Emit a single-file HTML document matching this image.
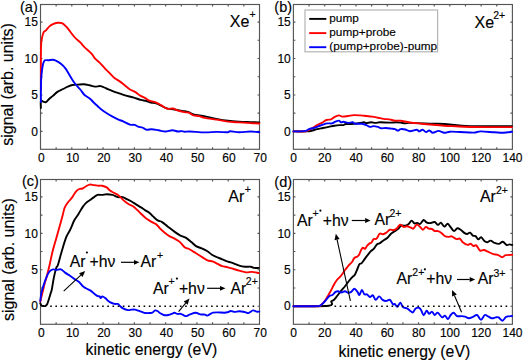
<!DOCTYPE html>
<html><head><meta charset="utf-8"><style>
html,body{margin:0;padding:0;background:#fff;}
body{width:525px;height:360px;overflow:hidden;}
svg{display:block;font-family:"Liberation Sans", sans-serif;}
text{stroke:#000;stroke-width:0.15px;}
</style></head><body>
<svg width="525" height="360" viewBox="0 0 525 360" font-family='"Liberation Sans", sans-serif' fill="#000">
<rect x="40.5" y="4.5" width="219.00" height="144.80" fill="none" stroke="#555555" stroke-width="1.15"/>
<path d="M40.5,131.40h2.0M259.5,131.40h-2.0M40.5,113.18h2.0M259.5,113.18h-2.0M40.5,94.95h2.0M259.5,94.95h-2.0M40.5,76.73h2.0M259.5,76.73h-2.0M40.5,58.50h2.0M259.5,58.50h-2.0M40.5,40.28h2.0M259.5,40.28h-2.0M40.5,22.05h2.0M259.5,22.05h-2.0M56.14,149.3v-2.0M56.14,4.5v2.0M71.79,149.3v-2.0M71.79,4.5v2.0M87.43,149.3v-2.0M87.43,4.5v2.0M103.07,149.3v-2.0M103.07,4.5v2.0M118.71,149.3v-2.0M118.71,4.5v2.0M134.36,149.3v-2.0M134.36,4.5v2.0M150.00,149.3v-2.0M150.00,4.5v2.0M165.64,149.3v-2.0M165.64,4.5v2.0M181.29,149.3v-2.0M181.29,4.5v2.0M196.93,149.3v-2.0M196.93,4.5v2.0M212.57,149.3v-2.0M212.57,4.5v2.0M228.21,149.3v-2.0M228.21,4.5v2.0M243.86,149.3v-2.0M243.86,4.5v2.0" stroke="#555555" stroke-width="1.15" fill="none"/>
<g font-size="12" fill="#000"><text x="37.90" y="135.60" text-anchor="end">0</text><text x="37.90" y="99.15" text-anchor="end">5</text><text x="37.90" y="62.70" text-anchor="end">10</text><text x="37.90" y="26.25" text-anchor="end">15</text><text x="41.30" y="161.90" text-anchor="middle">0</text><text x="72.59" y="161.90" text-anchor="middle">10</text><text x="103.87" y="161.90" text-anchor="middle">20</text><text x="135.16" y="161.90" text-anchor="middle">30</text><text x="166.44" y="161.90" text-anchor="middle">40</text><text x="197.73" y="161.90" text-anchor="middle">50</text><text x="229.01" y="161.90" text-anchor="middle">60</text><text x="260.30" y="161.90" text-anchor="middle">70</text></g>
<rect x="293.4" y="4.5" width="219.00" height="144.80" fill="none" stroke="#555555" stroke-width="1.15"/>
<path d="M293.4,131.40h2.0M512.4,131.40h-2.0M293.4,113.18h2.0M512.4,113.18h-2.0M293.4,94.95h2.0M512.4,94.95h-2.0M293.4,76.73h2.0M512.4,76.73h-2.0M293.4,58.50h2.0M512.4,58.50h-2.0M293.4,40.28h2.0M512.4,40.28h-2.0M293.4,22.05h2.0M512.4,22.05h-2.0M309.04,149.3v-2.0M309.04,4.5v2.0M324.69,149.3v-2.0M324.69,4.5v2.0M340.33,149.3v-2.0M340.33,4.5v2.0M355.97,149.3v-2.0M355.97,4.5v2.0M371.61,149.3v-2.0M371.61,4.5v2.0M387.26,149.3v-2.0M387.26,4.5v2.0M402.90,149.3v-2.0M402.90,4.5v2.0M418.54,149.3v-2.0M418.54,4.5v2.0M434.19,149.3v-2.0M434.19,4.5v2.0M449.83,149.3v-2.0M449.83,4.5v2.0M465.47,149.3v-2.0M465.47,4.5v2.0M481.11,149.3v-2.0M481.11,4.5v2.0M496.76,149.3v-2.0M496.76,4.5v2.0" stroke="#555555" stroke-width="1.15" fill="none"/>
<g font-size="12" fill="#000"><text x="290.80" y="135.60" text-anchor="end">0</text><text x="290.80" y="99.15" text-anchor="end">5</text><text x="290.80" y="62.70" text-anchor="end">10</text><text x="290.80" y="26.25" text-anchor="end">15</text><text x="293.50" y="161.90" text-anchor="middle">0</text><text x="324.79" y="161.90" text-anchor="middle">20</text><text x="356.07" y="161.90" text-anchor="middle">40</text><text x="387.36" y="161.90" text-anchor="middle">60</text><text x="418.64" y="161.90" text-anchor="middle">80</text><text x="449.93" y="161.90" text-anchor="middle">100</text><text x="481.21" y="161.90" text-anchor="middle">120</text><text x="512.50" y="161.90" text-anchor="middle">140</text></g>
<rect x="40.5" y="179.5" width="219.00" height="144.80" fill="none" stroke="#555555" stroke-width="1.15"/>
<path d="M40.5,306.20h2.0M259.5,306.20h-2.0M40.5,287.97h2.0M259.5,287.97h-2.0M40.5,269.75h2.0M259.5,269.75h-2.0M40.5,251.52h2.0M259.5,251.52h-2.0M40.5,233.30h2.0M259.5,233.30h-2.0M40.5,215.07h2.0M259.5,215.07h-2.0M40.5,196.85h2.0M259.5,196.85h-2.0M56.14,324.3v-2.0M56.14,179.5v2.0M71.79,324.3v-2.0M71.79,179.5v2.0M87.43,324.3v-2.0M87.43,179.5v2.0M103.07,324.3v-2.0M103.07,179.5v2.0M118.71,324.3v-2.0M118.71,179.5v2.0M134.36,324.3v-2.0M134.36,179.5v2.0M150.00,324.3v-2.0M150.00,179.5v2.0M165.64,324.3v-2.0M165.64,179.5v2.0M181.29,324.3v-2.0M181.29,179.5v2.0M196.93,324.3v-2.0M196.93,179.5v2.0M212.57,324.3v-2.0M212.57,179.5v2.0M228.21,324.3v-2.0M228.21,179.5v2.0M243.86,324.3v-2.0M243.86,179.5v2.0" stroke="#555555" stroke-width="1.15" fill="none"/>
<g font-size="12" fill="#000"><text x="37.90" y="310.40" text-anchor="end">0</text><text x="37.90" y="273.95" text-anchor="end">5</text><text x="37.90" y="237.50" text-anchor="end">10</text><text x="37.90" y="201.05" text-anchor="end">15</text><text x="41.30" y="336.90" text-anchor="middle">0</text><text x="72.59" y="336.90" text-anchor="middle">10</text><text x="103.87" y="336.90" text-anchor="middle">20</text><text x="135.16" y="336.90" text-anchor="middle">30</text><text x="166.44" y="336.90" text-anchor="middle">40</text><text x="197.73" y="336.90" text-anchor="middle">50</text><text x="229.01" y="336.90" text-anchor="middle">60</text><text x="260.30" y="336.90" text-anchor="middle">70</text></g>
<rect x="293.4" y="179.5" width="219.00" height="144.80" fill="none" stroke="#555555" stroke-width="1.15"/>
<path d="M293.4,306.20h2.0M512.4,306.20h-2.0M293.4,287.97h2.0M512.4,287.97h-2.0M293.4,269.75h2.0M512.4,269.75h-2.0M293.4,251.52h2.0M512.4,251.52h-2.0M293.4,233.30h2.0M512.4,233.30h-2.0M293.4,215.07h2.0M512.4,215.07h-2.0M293.4,196.85h2.0M512.4,196.85h-2.0M309.04,324.3v-2.0M309.04,179.5v2.0M324.69,324.3v-2.0M324.69,179.5v2.0M340.33,324.3v-2.0M340.33,179.5v2.0M355.97,324.3v-2.0M355.97,179.5v2.0M371.61,324.3v-2.0M371.61,179.5v2.0M387.26,324.3v-2.0M387.26,179.5v2.0M402.90,324.3v-2.0M402.90,179.5v2.0M418.54,324.3v-2.0M418.54,179.5v2.0M434.19,324.3v-2.0M434.19,179.5v2.0M449.83,324.3v-2.0M449.83,179.5v2.0M465.47,324.3v-2.0M465.47,179.5v2.0M481.11,324.3v-2.0M481.11,179.5v2.0M496.76,324.3v-2.0M496.76,179.5v2.0" stroke="#555555" stroke-width="1.15" fill="none"/>
<g font-size="12" fill="#000"><text x="290.80" y="310.40" text-anchor="end">0</text><text x="290.80" y="273.95" text-anchor="end">5</text><text x="290.80" y="237.50" text-anchor="end">10</text><text x="290.80" y="201.05" text-anchor="end">15</text><text x="293.50" y="336.90" text-anchor="middle">0</text><text x="324.79" y="336.90" text-anchor="middle">20</text><text x="356.07" y="336.90" text-anchor="middle">40</text><text x="387.36" y="336.90" text-anchor="middle">60</text><text x="418.64" y="336.90" text-anchor="middle">80</text><text x="449.93" y="336.90" text-anchor="middle">100</text><text x="481.21" y="336.90" text-anchor="middle">120</text><text x="512.50" y="336.90" text-anchor="middle">140</text></g>
<path d="M40.90,108.00 C40.90,106.83 40.53,102.07 40.90,101.00 C41.27,99.93 42.25,101.42 43.10,101.60 C43.95,101.78 44.95,102.58 46.00,102.10 C47.05,101.62 48.25,99.73 49.40,98.70 C50.55,97.67 51.57,97.03 52.90,95.90 C54.23,94.77 55.70,93.05 57.40,91.90 C59.10,90.75 61.38,89.87 63.10,89.00 C64.82,88.13 66.17,87.37 67.70,86.70 C69.23,86.03 70.58,85.35 72.30,85.00 C74.02,84.65 76.10,84.72 78.00,84.60 C79.90,84.48 81.80,84.20 83.70,84.30 C85.60,84.40 87.52,84.82 89.40,85.20 C91.28,85.58 93.12,86.45 95.00,86.60 C96.88,86.75 98.80,85.78 100.70,86.10 C102.60,86.42 104.30,87.63 106.40,88.50 C108.50,89.37 111.02,90.45 113.30,91.30 C115.58,92.15 117.82,92.83 120.10,93.60 C122.38,94.37 124.70,95.23 127.00,95.90 C129.30,96.57 131.62,96.93 133.90,97.60 C136.18,98.27 138.62,99.33 140.70,99.90 C142.78,100.47 144.68,100.55 146.40,101.00 C148.12,101.45 149.25,102.17 151.00,102.60 C152.75,103.03 154.40,102.68 156.90,103.60 C159.40,104.52 163.33,107.15 166.00,108.10 C168.67,109.05 169.28,108.67 172.90,109.30 C176.52,109.93 184.28,111.05 187.70,111.90 C191.12,112.75 190.52,113.65 193.40,114.40 C196.28,115.15 201.17,115.65 205.00,116.40 C208.83,117.15 212.58,118.17 216.40,118.90 C220.22,119.63 224.08,120.33 227.90,120.80 C231.72,121.27 235.50,121.48 239.30,121.70 C243.10,121.92 247.37,121.98 250.70,122.10 C254.03,122.22 257.87,122.35 259.30,122.40" stroke="#000000" stroke-width="1.9" fill="none" stroke-linejoin="round" stroke-linecap="round"/>
<path d="M40.90,90.00 C40.90,84.17 40.85,62.73 40.90,55.00 C40.95,47.27 41.02,46.45 41.20,43.60 C41.38,40.75 41.58,39.82 42.00,37.90 C42.42,35.98 43.03,33.35 43.70,32.10 C44.37,30.85 45.05,31.35 46.00,30.40 C46.95,29.45 48.25,27.45 49.40,26.40 C50.55,25.35 51.57,24.70 52.90,24.10 C54.23,23.50 55.88,22.95 57.40,22.80 C58.92,22.65 60.57,22.60 62.00,23.20 C63.43,23.80 64.85,25.28 66.00,26.40 C67.15,27.52 67.85,28.57 68.90,29.90 C69.95,31.23 71.17,32.98 72.30,34.40 C73.43,35.82 74.37,37.07 75.70,38.40 C77.03,39.73 78.77,40.87 80.30,42.40 C81.83,43.93 83.38,46.07 84.90,47.60 C86.42,49.13 88.17,50.43 89.40,51.60 C90.63,52.77 91.35,53.43 92.30,54.60 C93.25,55.77 93.88,57.27 95.10,58.60 C96.32,59.93 97.90,60.88 99.60,62.60 C101.30,64.32 103.58,67.10 105.30,68.90 C107.02,70.70 108.38,71.88 109.90,73.40 C111.42,74.92 112.88,76.75 114.40,78.00 C115.92,79.25 117.33,79.75 119.00,80.90 C120.67,82.05 122.63,83.52 124.40,84.90 C126.17,86.28 127.83,88.03 129.60,89.20 C131.37,90.37 133.15,90.78 135.00,91.90 C136.85,93.02 138.98,94.87 140.70,95.90 C142.42,96.93 143.97,97.35 145.30,98.10 C146.63,98.85 146.97,99.68 148.70,100.40 C150.43,101.12 153.58,101.58 155.70,102.40 C157.82,103.22 159.50,104.25 161.40,105.30 C163.30,106.35 165.18,108.17 167.10,108.70 C169.02,109.23 171.18,108.22 172.90,108.50 C174.62,108.78 175.50,109.80 177.40,110.40 C179.30,111.00 182.38,111.72 184.30,112.10 C186.22,112.48 187.38,112.17 188.90,112.70 C190.42,113.23 191.70,114.73 193.40,115.30 C195.10,115.87 197.18,115.67 199.10,116.10 C201.02,116.53 202.02,117.32 204.90,117.90 C207.78,118.48 212.57,118.98 216.40,119.60 C220.23,120.22 224.08,121.13 227.90,121.60 C231.72,122.07 235.50,122.15 239.30,122.40 C243.10,122.65 247.37,122.92 250.70,123.10 C254.03,123.28 257.87,123.43 259.30,123.50" stroke="#ff0000" stroke-width="1.9" fill="none" stroke-linejoin="round" stroke-linecap="round"/>
<path d="M40.90,102.10 C40.90,100.08 40.85,93.92 40.90,90.00 C40.95,86.08 41.02,81.83 41.20,78.60 C41.38,75.37 41.68,73.08 42.00,70.60 C42.32,68.12 42.62,65.42 43.10,63.70 C43.58,61.98 44.03,60.87 44.90,60.30 C45.77,59.73 46.97,60.40 48.30,60.30 C49.63,60.20 51.57,59.60 52.90,59.70 C54.23,59.80 54.97,60.23 56.30,60.90 C57.63,61.57 59.38,62.47 60.90,63.70 C62.42,64.93 64.07,66.58 65.40,68.30 C66.73,70.02 67.75,72.10 68.90,74.00 C70.05,75.90 71.17,77.95 72.30,79.70 C73.43,81.45 74.37,82.87 75.70,84.50 C77.03,86.13 78.87,87.80 80.30,89.50 C81.73,91.20 82.68,93.17 84.30,94.70 C85.92,96.23 88.38,97.35 90.00,98.70 C91.62,100.05 92.67,101.50 94.00,102.80 C95.33,104.10 96.88,105.47 98.00,106.50 C99.12,107.53 99.30,107.92 100.70,109.00 C102.10,110.08 104.50,111.77 106.40,113.00 C108.30,114.23 110.18,115.35 112.10,116.40 C114.02,117.45 115.98,118.43 117.90,119.30 C119.82,120.17 121.58,120.72 123.60,121.60 C125.62,122.48 128.17,124.05 130.00,124.60 C131.83,125.15 133.27,124.57 134.60,124.90 C135.93,125.23 136.67,126.13 138.00,126.60 C139.33,127.07 141.17,127.18 142.60,127.70 C144.03,128.22 145.08,129.45 146.60,129.70 C148.12,129.95 149.70,129.10 151.70,129.20 C153.70,129.30 156.32,129.92 158.60,130.30 C160.88,130.68 163.12,131.50 165.40,131.50 C167.68,131.50 170.20,130.30 172.30,130.30 C174.40,130.30 176.48,131.37 178.00,131.50 C179.52,131.63 180.25,131.07 181.40,131.10 C182.55,131.13 183.47,131.63 184.90,131.70 C186.33,131.77 186.65,131.38 190.00,131.50 C193.35,131.62 200.60,132.33 205.00,132.40 C209.40,132.47 212.58,131.93 216.40,131.90 C220.22,131.87 225.62,132.30 227.90,132.20 C230.18,132.10 228.20,131.30 230.10,131.30 C232.00,131.30 235.87,132.17 239.30,132.20 C242.73,132.23 247.37,131.50 250.70,131.50 C254.03,131.50 257.87,132.08 259.30,132.20" stroke="#0000ff" stroke-width="1.9" fill="none" stroke-linejoin="round" stroke-linecap="round"/>
<path d="M293.50,131.40 C295.73,131.40 303.92,131.48 306.90,131.40 C309.88,131.32 309.70,131.28 311.40,130.90 C313.10,130.52 315.18,129.58 317.10,129.10 C319.02,128.62 320.98,128.37 322.90,128.00 C324.82,127.63 326.70,127.28 328.60,126.90 C330.50,126.52 332.40,126.00 334.30,125.70 C336.20,125.40 338.48,125.20 340.00,125.10 C341.52,125.00 342.45,125.28 343.40,125.10 C344.35,124.92 344.37,124.18 345.70,124.00 C347.03,123.82 349.52,124.08 351.40,124.00 C353.28,123.92 355.25,123.73 357.00,123.50 C358.75,123.27 360.72,122.80 361.90,122.60 C363.08,122.40 363.35,122.22 364.10,122.30 C364.85,122.38 365.25,123.10 366.40,123.10 C367.55,123.10 369.47,122.33 371.00,122.30 C372.53,122.27 374.08,122.90 375.60,122.90 C377.12,122.90 377.82,122.35 380.10,122.30 C382.38,122.25 386.63,122.60 389.30,122.60 C391.97,122.60 394.20,122.30 396.10,122.30 C398.00,122.30 399.17,122.42 400.70,122.60 C402.23,122.78 403.75,123.35 405.30,123.40 C406.85,123.45 405.40,122.85 410.00,122.90 C414.60,122.95 427.18,123.52 432.90,123.70 C438.62,123.88 438.12,123.60 444.30,124.00 C450.48,124.40 458.72,125.72 470.00,126.10 C481.28,126.48 505.00,126.27 512.00,126.30" stroke="#000000" stroke-width="1.9" fill="none" stroke-linejoin="round" stroke-linecap="round"/>
<path d="M293.50,131.40 C295.25,131.40 301.77,131.48 304.00,131.40 C306.23,131.32 305.67,131.37 306.90,130.90 C308.13,130.43 309.70,129.57 311.40,128.60 C313.10,127.63 315.38,126.05 317.10,125.10 C318.82,124.15 320.17,123.75 321.70,122.90 C323.23,122.05 324.77,120.58 326.30,120.00 C327.83,119.42 329.57,119.88 330.90,119.40 C332.23,118.92 332.97,117.77 334.30,117.10 C335.63,116.43 337.57,115.48 338.90,115.40 C340.23,115.32 340.78,116.50 342.30,116.60 C343.82,116.70 346.10,116.25 348.00,116.00 C349.90,115.75 351.58,115.20 353.70,115.10 C355.82,115.00 358.58,115.25 360.70,115.40 C362.82,115.55 364.50,115.80 366.40,116.00 C368.30,116.20 370.18,116.32 372.10,116.60 C374.02,116.88 375.98,117.32 377.90,117.70 C379.82,118.08 381.70,118.62 383.60,118.90 C385.50,119.18 387.40,119.12 389.30,119.40 C391.20,119.68 393.10,120.37 395.00,120.60 C396.90,120.83 398.20,120.48 400.70,120.80 C403.20,121.12 406.55,122.02 410.00,122.50 C413.45,122.98 417.58,123.32 421.40,123.70 C425.22,124.08 429.08,124.47 432.90,124.80 C436.72,125.13 440.50,125.45 444.30,125.70 C448.10,125.95 451.42,126.08 455.70,126.30 C459.98,126.52 460.62,126.87 470.00,127.00 C479.38,127.13 505.00,127.08 512.00,127.10" stroke="#ff0000" stroke-width="1.9" fill="none" stroke-linejoin="round" stroke-linecap="round"/>
<path d="M293.50,131.40 C294.58,131.40 297.97,131.48 300.00,131.40 C302.03,131.32 304.18,131.28 305.70,130.90 C307.22,130.52 307.77,129.58 309.10,129.10 C310.43,128.62 312.17,128.47 313.70,128.00 C315.23,127.53 316.77,126.87 318.30,126.30 C319.83,125.73 321.38,125.08 322.90,124.60 C324.42,124.12 325.88,123.60 327.40,123.40 C328.92,123.20 330.67,123.68 332.00,123.40 C333.33,123.12 334.25,122.17 335.40,121.70 C336.55,121.23 337.95,120.50 338.90,120.60 C339.85,120.70 340.35,122.12 341.10,122.30 C341.85,122.48 342.25,121.60 343.40,121.70 C344.55,121.80 346.47,122.80 348.00,122.90 C349.53,123.00 351.43,122.18 352.60,122.30 C353.77,122.42 353.45,123.35 355.00,123.60 C356.55,123.85 360.00,123.55 361.90,123.80 C363.80,124.05 365.07,124.58 366.40,125.10 C367.73,125.62 368.75,126.73 369.90,126.90 C371.05,127.07 371.97,126.10 373.30,126.10 C374.63,126.10 376.57,126.53 377.90,126.90 C379.23,127.27 379.97,128.12 381.30,128.30 C382.63,128.48 384.18,127.95 385.90,128.00 C387.62,128.05 390.08,128.42 391.60,128.60 C393.12,128.78 393.95,128.77 395.00,129.10 C396.05,129.43 396.95,130.60 397.90,130.60 C398.85,130.60 399.47,129.28 400.70,129.10 C401.93,128.92 403.75,129.15 405.30,129.50 C406.85,129.85 408.07,131.17 410.00,131.20 C411.93,131.23 415.38,129.67 416.90,129.70 C418.42,129.73 418.15,131.40 419.10,131.40 C420.05,131.40 421.45,129.60 422.60,129.70 C423.75,129.80 424.87,131.87 426.00,132.00 C427.13,132.13 428.25,130.37 429.40,130.50 C430.55,130.63 431.37,132.73 432.90,132.80 C434.43,132.87 436.70,130.90 438.60,130.90 C440.50,130.90 442.40,132.67 444.30,132.80 C446.20,132.93 447.38,131.83 450.00,131.70 C452.62,131.57 456.05,131.85 460.00,132.00 C463.95,132.15 470.27,132.70 473.70,132.60 C477.13,132.50 477.17,131.45 480.60,131.40 C484.03,131.35 490.50,132.07 494.30,132.30 C498.10,132.53 500.45,132.90 503.40,132.80 C506.35,132.70 510.57,131.88 512.00,131.70" stroke="#0000ff" stroke-width="1.9" fill="none" stroke-linejoin="round" stroke-linecap="round"/>
<path d="M40.30,303.10 C40.48,303.48 40.93,304.92 41.40,305.40 C41.87,305.88 42.43,305.90 43.10,306.00 C43.77,306.10 44.73,306.28 45.40,306.00 C46.07,305.72 46.52,305.45 47.10,304.30 C47.68,303.15 48.32,300.92 48.90,299.10 C49.48,297.28 50.13,294.92 50.60,293.40 C51.07,291.88 51.13,292.75 51.70,290.00 C52.27,287.25 53.23,280.62 54.00,276.90 C54.77,273.18 55.65,269.68 56.30,267.70 C56.95,265.72 57.05,267.53 57.90,265.00 C58.75,262.47 60.02,257.13 61.40,252.50 C62.78,247.87 64.75,240.95 66.20,237.20 C67.65,233.45 69.17,231.85 70.10,230.00 C71.03,228.15 71.10,227.72 71.80,226.10 C72.50,224.48 73.18,222.32 74.30,220.30 C75.42,218.28 77.12,216.20 78.50,214.00 C79.88,211.80 81.33,208.95 82.60,207.10 C83.87,205.25 84.87,204.07 86.10,202.90 C87.33,201.73 88.67,201.07 90.00,200.10 C91.33,199.13 92.83,197.97 94.10,197.10 C95.37,196.23 96.27,195.27 97.60,194.90 C98.93,194.53 100.58,195.00 102.10,194.90 C103.62,194.80 104.98,194.30 106.70,194.30 C108.42,194.30 110.50,194.43 112.40,194.90 C114.30,195.37 116.38,196.73 118.10,197.10 C119.82,197.47 121.17,196.72 122.70,197.10 C124.23,197.48 125.77,198.63 127.30,199.40 C128.83,200.17 130.38,200.83 131.90,201.70 C133.42,202.57 134.88,203.65 136.40,204.60 C137.92,205.55 139.57,206.48 141.00,207.40 C142.43,208.32 143.57,209.17 145.00,210.10 C146.43,211.03 148.27,211.95 149.60,213.00 C150.93,214.05 151.67,215.17 153.00,216.40 C154.33,217.63 156.08,219.45 157.60,220.40 C159.12,221.35 160.38,221.05 162.10,222.10 C163.82,223.15 165.80,225.07 167.90,226.70 C170.00,228.33 172.68,230.47 174.70,231.90 C176.72,233.33 178.17,234.35 180.00,235.30 C181.83,236.25 183.80,236.47 185.70,237.60 C187.60,238.73 189.68,240.68 191.40,242.10 C193.12,243.52 194.28,245.05 196.00,246.10 C197.72,247.15 199.80,247.53 201.70,248.40 C203.60,249.27 205.68,250.25 207.40,251.30 C209.12,252.35 210.47,253.75 212.00,254.70 C213.53,255.65 214.88,256.23 216.60,257.00 C218.32,257.77 220.40,258.53 222.30,259.30 C224.20,260.07 226.12,260.93 228.00,261.60 C229.88,262.27 231.72,262.63 233.60,263.30 C235.48,263.97 237.40,265.03 239.30,265.60 C241.20,266.17 243.10,266.52 245.00,266.70 C246.90,266.88 249.18,266.50 250.70,266.70 C252.22,266.90 252.77,267.70 254.10,267.90 C255.43,268.10 257.93,267.90 258.70,267.90" stroke="#000000" stroke-width="1.9" fill="none" stroke-linejoin="round" stroke-linecap="round"/>
<path d="M40.30,301.40 C40.77,299.50 42.33,293.13 43.10,290.00 C43.87,286.87 44.32,284.78 44.90,282.60 C45.48,280.42 45.82,279.83 46.60,276.90 C47.38,273.97 48.65,269.07 49.60,265.00 C50.55,260.93 51.27,256.67 52.30,252.50 C53.33,248.33 54.63,244.17 55.80,240.00 C56.97,235.83 58.14,231.67 59.30,227.50 C60.46,223.33 61.87,218.28 62.75,215.00 C63.63,211.72 63.72,209.93 64.60,207.80 C65.47,205.67 66.73,203.93 68.00,202.20 C69.27,200.47 70.92,199.13 72.20,197.40 C73.48,195.67 74.53,193.20 75.70,191.80 C76.87,190.40 78.05,189.55 79.20,189.00 C80.35,188.45 81.45,188.96 82.60,188.50 C83.75,188.04 84.93,186.90 86.10,186.25 C87.27,185.60 88.27,184.79 89.60,184.60 C90.93,184.41 92.58,184.92 94.10,185.10 C95.62,185.28 97.37,185.60 98.70,185.70 C100.03,185.80 100.77,185.42 102.10,185.70 C103.43,185.98 105.55,186.73 106.70,187.40 C107.85,188.07 108.05,188.93 109.00,189.70 C109.95,190.47 111.07,191.23 112.40,192.00 C113.73,192.77 115.67,193.45 117.00,194.30 C118.33,195.15 119.25,196.05 120.40,197.10 C121.55,198.15 122.57,199.45 123.90,200.60 C125.23,201.75 126.88,203.05 128.40,204.00 C129.92,204.95 131.47,205.25 133.00,206.30 C134.53,207.35 136.27,209.07 137.60,210.30 C138.93,211.53 139.77,212.50 141.00,213.70 C142.23,214.90 143.77,216.47 145.00,217.50 C146.23,218.53 147.07,219.03 148.40,219.90 C149.73,220.77 151.67,221.95 153.00,222.70 C154.33,223.45 155.25,223.45 156.40,224.40 C157.55,225.35 158.57,227.07 159.90,228.40 C161.23,229.73 162.88,231.15 164.40,232.40 C165.92,233.65 167.28,234.85 169.00,235.90 C170.72,236.95 172.87,237.67 174.70,238.70 C176.53,239.73 178.35,240.67 180.00,242.10 C181.65,243.53 183.08,246.15 184.60,247.30 C186.12,248.45 187.58,248.23 189.10,249.00 C190.62,249.77 192.17,250.95 193.70,251.90 C195.23,252.85 196.77,253.75 198.30,254.70 C199.83,255.65 201.38,256.65 202.90,257.60 C204.42,258.55 205.70,259.73 207.40,260.40 C209.10,261.07 211.40,261.02 213.10,261.60 C214.80,262.18 216.10,263.15 217.60,263.90 C219.10,264.65 220.38,265.53 222.10,266.10 C223.82,266.67 225.98,266.82 227.90,267.30 C229.82,267.78 231.70,268.43 233.60,269.00 C235.50,269.57 237.22,270.13 239.30,270.70 C241.38,271.27 244.00,272.20 246.10,272.40 C248.20,272.60 249.80,271.80 251.90,271.90 C254.00,272.00 257.57,272.82 258.70,273.00" stroke="#ff0000" stroke-width="1.9" fill="none" stroke-linejoin="round" stroke-linecap="round"/>
<path d="M40.30,300.90 C40.48,299.57 40.83,295.57 41.40,292.90 C41.97,290.23 42.83,287.57 43.70,284.90 C44.57,282.23 45.65,279.10 46.60,276.90 C47.55,274.70 48.35,272.95 49.40,271.70 C50.45,270.45 51.75,269.68 52.90,269.40 C54.05,269.12 54.97,270.00 56.30,270.00 C57.63,270.00 59.38,268.92 60.90,269.40 C62.42,269.88 63.88,271.85 65.40,272.90 C66.92,273.95 68.47,274.67 70.00,275.70 C71.53,276.73 73.08,278.05 74.60,279.10 C76.12,280.15 77.77,280.85 79.10,282.00 C80.43,283.15 81.45,284.95 82.60,286.00 C83.75,287.05 84.67,287.53 86.00,288.30 C87.33,289.07 89.27,289.75 90.60,290.60 C91.93,291.45 92.88,292.52 94.00,293.40 C95.12,294.28 96.37,295.40 97.30,295.90 C98.23,296.40 99.03,296.03 99.60,296.40 C100.17,296.77 100.23,298.10 100.70,298.10 C101.17,298.10 101.63,296.40 102.40,296.40 C103.17,296.40 104.43,297.43 105.30,298.10 C106.17,298.77 106.83,299.73 107.60,300.40 C108.37,301.07 108.77,301.52 109.90,302.10 C111.03,302.68 113.07,303.60 114.40,303.90 C115.73,304.20 117.03,303.62 117.90,303.90 C118.77,304.18 118.75,304.85 119.60,305.60 C120.45,306.35 121.58,307.65 123.00,308.40 C124.42,309.15 126.67,309.90 128.10,310.10 C129.53,310.30 130.45,309.68 131.60,309.60 C132.75,309.52 133.87,309.42 135.00,309.60 C136.13,309.78 137.25,310.32 138.40,310.70 C139.55,311.08 140.75,311.52 141.90,311.90 C143.05,312.28 143.97,312.82 145.30,313.00 C146.63,313.18 148.73,313.05 149.90,313.00 C151.07,312.95 151.43,313.13 152.30,312.70 C153.17,312.27 154.25,310.68 155.10,310.40 C155.95,310.12 156.53,310.52 157.40,311.00 C158.27,311.48 159.25,312.63 160.30,313.30 C161.35,313.97 162.37,314.72 163.70,315.00 C165.03,315.28 166.77,315.28 168.30,315.00 C169.83,314.72 171.85,313.68 172.90,313.30 C173.95,312.92 173.85,312.60 174.60,312.70 C175.35,312.80 176.35,313.70 177.40,313.90 C178.45,314.10 179.75,313.62 180.90,313.90 C182.05,314.18 183.35,315.23 184.30,315.60 C185.25,315.97 185.65,316.30 186.60,316.10 C187.55,315.90 188.48,314.97 190.00,314.40 C191.52,313.83 193.98,312.70 195.70,312.70 C197.42,312.70 198.75,314.08 200.30,314.40 C201.85,314.72 203.83,314.40 205.00,314.60 C206.17,314.80 206.53,315.63 207.30,315.60 C208.07,315.57 208.65,314.88 209.60,314.40 C210.55,313.92 211.67,313.03 213.00,312.70 C214.33,312.37 215.70,312.40 217.60,312.40 C219.50,312.40 222.68,312.75 224.40,312.70 C226.12,312.65 226.85,312.38 227.90,312.10 C228.95,311.82 229.57,311.03 230.70,311.00 C231.83,310.97 233.27,311.87 234.70,311.90 C236.13,311.93 237.58,311.17 239.30,311.20 C241.02,311.23 243.48,311.78 245.00,312.10 C246.52,312.42 247.07,313.38 248.40,313.10 C249.73,312.82 251.67,310.65 253.00,310.40 C254.33,310.15 255.35,311.40 256.40,311.60 C257.45,311.80 258.82,311.60 259.30,311.60" stroke="#0000ff" stroke-width="1.9" fill="none" stroke-linejoin="round" stroke-linecap="round"/>
<path d="M293.50,306.20 C299.38,306.13 322.46,306.62 328.75,305.80 C335.04,304.98 330.42,302.22 331.25,301.25 C332.08,300.28 332.81,300.83 333.75,300.00 C334.69,299.17 335.65,297.82 336.90,296.25 C338.15,294.68 339.90,292.27 341.25,290.60 C342.60,288.93 343.75,287.81 345.00,286.25 C346.25,284.69 347.50,282.81 348.75,281.25 C350.00,279.69 351.46,278.04 352.50,276.90 C353.54,275.76 354.17,275.76 355.00,274.40 C355.83,273.04 356.77,270.43 357.50,268.75 C358.23,267.07 358.70,265.24 359.40,264.30 C360.10,263.36 360.83,263.97 361.70,263.10 C362.57,262.23 363.55,260.52 364.60,259.10 C365.65,257.68 366.95,255.93 368.00,254.60 C369.05,253.27 369.95,252.05 370.90,251.10 C371.85,250.15 372.67,250.03 373.70,248.90 C374.73,247.77 376.05,245.27 377.10,244.30 C378.15,243.33 378.83,243.82 380.00,243.10 C381.17,242.38 382.83,240.90 384.10,240.00 C385.37,239.10 386.45,238.75 387.60,237.70 C388.75,236.65 389.87,234.75 391.00,233.70 C392.13,232.65 393.25,232.17 394.40,231.40 C395.55,230.63 396.75,230.05 397.90,229.10 C399.05,228.15 400.07,226.27 401.30,225.70 C402.53,225.13 404.07,225.98 405.30,225.70 C406.53,225.42 407.65,224.85 408.70,224.00 C409.75,223.15 410.65,220.70 411.60,220.60 C412.55,220.50 413.45,223.02 414.40,223.40 C415.35,223.78 416.35,222.80 417.30,222.90 C418.25,223.00 419.05,224.48 420.10,224.00 C421.15,223.52 422.55,220.28 423.60,220.00 C424.65,219.72 425.33,221.78 426.40,222.30 C427.47,222.82 428.63,223.15 430.00,223.10 C431.37,223.05 433.27,221.70 434.60,222.00 C435.93,222.30 436.95,224.80 438.00,224.90 C439.05,225.00 439.85,222.32 440.90,222.60 C441.95,222.88 443.17,226.42 444.30,226.60 C445.43,226.78 446.65,223.62 447.70,223.70 C448.75,223.78 449.55,225.87 450.60,227.10 C451.65,228.33 452.87,230.90 454.00,231.10 C455.13,231.30 456.25,228.48 457.40,228.30 C458.55,228.12 459.75,229.23 460.90,230.00 C462.05,230.77 463.27,232.23 464.30,232.90 C465.33,233.57 466.15,234.05 467.10,234.00 C468.05,233.95 469.05,232.33 470.00,232.60 C470.95,232.87 471.87,235.02 472.80,235.60 C473.73,236.18 474.68,235.47 475.60,236.10 C476.52,236.73 477.38,239.22 478.30,239.40 C479.22,239.58 480.08,236.92 481.10,237.20 C482.12,237.48 483.38,240.27 484.40,241.10 C485.42,241.93 486.17,242.28 487.20,242.20 C488.23,242.12 489.40,240.50 490.60,240.60 C491.80,240.70 493.02,242.25 494.40,242.80 C495.78,243.35 497.50,244.08 498.90,243.90 C500.30,243.72 501.50,241.52 502.80,241.70 C504.10,241.88 505.60,244.55 506.70,245.00 C507.80,245.45 508.48,244.40 509.40,244.40 C510.32,244.40 511.73,244.90 512.20,245.00" stroke="#000000" stroke-width="1.9" fill="none" stroke-linejoin="round" stroke-linecap="round"/>
<path d="M293.50,306.20 C297.58,306.20 313.33,306.48 318.00,306.20 C322.67,305.92 320.50,305.20 321.50,304.50 C322.50,303.80 323.21,302.96 324.00,302.00 C324.79,301.04 325.46,300.02 326.25,298.75 C327.04,297.48 327.92,295.86 328.75,294.40 C329.58,292.94 330.42,291.57 331.25,290.00 C332.08,288.43 332.81,286.67 333.75,285.00 C334.69,283.33 335.86,281.35 336.90,280.00 C337.94,278.65 339.07,277.94 340.00,276.90 C340.93,275.86 341.67,274.90 342.50,273.75 C343.33,272.60 344.27,271.01 345.00,270.00 C345.73,268.99 346.22,268.55 346.90,267.70 C347.58,266.85 348.25,265.85 349.10,264.90 C349.95,263.95 351.13,263.15 352.00,262.00 C352.87,260.85 353.53,258.85 354.30,258.00 C355.07,257.15 355.83,257.38 356.60,256.90 C357.37,256.42 358.15,256.25 358.90,255.10 C359.65,253.95 360.43,251.23 361.10,250.00 C361.77,248.77 362.23,247.88 362.90,247.70 C363.57,247.52 364.43,249.18 365.10,248.90 C365.77,248.62 366.23,246.87 366.90,246.00 C367.57,245.13 368.35,244.27 369.10,243.70 C369.85,243.13 370.63,243.37 371.40,242.60 C372.17,241.83 372.83,239.77 373.70,239.10 C374.57,238.43 375.62,239.50 376.60,238.60 C377.58,237.70 378.53,234.42 379.60,233.70 C380.67,232.98 381.87,234.48 383.00,234.30 C384.13,234.12 385.25,233.37 386.40,232.60 C387.55,231.83 388.75,230.08 389.90,229.70 C391.05,229.32 392.17,230.48 393.30,230.30 C394.43,230.12 395.57,229.55 396.70,228.60 C397.83,227.65 398.95,224.88 400.10,224.60 C401.25,224.32 402.45,226.62 403.60,226.90 C404.75,227.18 405.87,226.22 407.00,226.30 C408.13,226.38 409.35,227.02 410.40,227.40 C411.45,227.78 412.25,229.07 413.30,228.60 C414.35,228.13 415.57,224.88 416.70,224.60 C417.83,224.32 419.05,226.05 420.10,226.90 C421.15,227.75 422.03,229.70 423.00,229.70 C423.97,229.70 424.95,227.08 425.90,226.90 C426.85,226.72 427.68,228.25 428.70,228.60 C429.72,228.95 431.02,228.60 432.00,229.00 C432.98,229.40 433.60,230.65 434.60,231.00 C435.60,231.35 436.87,230.78 438.00,231.10 C439.13,231.42 440.35,232.13 441.40,232.90 C442.45,233.67 443.15,235.03 444.30,235.70 C445.45,236.37 447.07,236.80 448.30,236.90 C449.53,237.00 450.37,235.93 451.70,236.30 C453.03,236.67 454.97,238.72 456.30,239.10 C457.63,239.48 458.57,238.02 459.70,238.60 C460.83,239.18 461.77,241.55 463.10,242.60 C464.43,243.65 466.45,244.72 467.70,244.90 C468.95,245.08 469.65,243.52 470.60,243.70 C471.55,243.88 472.45,245.72 473.40,246.00 C474.35,246.28 475.20,244.63 476.30,245.40 C477.40,246.17 478.73,249.83 480.00,250.60 C481.27,251.37 482.60,249.82 483.90,250.00 C485.20,250.18 486.23,251.02 487.80,251.70 C489.37,252.38 491.63,253.58 493.30,254.10 C494.97,254.62 496.32,254.28 497.80,254.80 C499.28,255.32 500.90,257.13 502.20,257.20 C503.50,257.27 503.93,255.60 505.60,255.20 C507.27,254.80 511.10,254.87 512.20,254.80" stroke="#ff0000" stroke-width="1.9" fill="none" stroke-linejoin="round" stroke-linecap="round"/>
<path d="M293.50,306.20 C297.08,306.20 310.58,306.30 315.00,306.20 C319.42,306.10 318.54,306.22 320.00,305.60 C321.46,304.98 322.50,303.75 323.75,302.50 C325.00,301.25 326.46,299.25 327.50,298.10 C328.54,296.95 329.17,296.12 330.00,295.60 C330.83,295.08 331.57,295.62 332.50,295.00 C333.43,294.38 334.67,292.52 335.60,291.90 C336.53,291.27 337.16,291.15 338.10,291.25 C339.04,291.35 340.10,292.50 341.25,292.50 C342.40,292.50 343.86,291.21 345.00,291.25 C346.14,291.29 347.06,292.64 348.10,292.75 C349.14,292.86 350.20,292.57 351.25,291.90 C352.30,291.23 353.36,288.75 354.40,288.75 C355.44,288.75 356.67,290.86 357.50,291.90 C358.33,292.94 358.67,295.32 359.40,295.00 C360.13,294.68 361.07,290.10 361.90,290.00 C362.73,289.90 363.57,293.67 364.40,294.40 C365.23,295.13 365.97,293.97 366.90,294.40 C367.83,294.83 369.00,296.85 370.00,297.00 C371.00,297.15 371.95,294.82 372.90,295.30 C373.85,295.78 374.67,299.72 375.70,299.90 C376.73,300.08 377.95,296.40 379.10,296.40 C380.25,296.40 381.45,299.13 382.60,299.90 C383.75,300.67 384.77,301.00 386.00,301.00 C387.23,301.00 388.85,299.33 390.00,299.90 C391.15,300.47 392.13,303.73 392.90,304.40 C393.67,305.07 393.85,303.52 394.60,303.90 C395.35,304.28 396.45,306.90 397.40,306.70 C398.35,306.50 399.35,302.60 400.30,302.70 C401.25,302.80 401.97,306.35 403.10,307.30 C404.23,308.25 405.95,307.83 407.10,308.40 C408.25,308.97 409.03,310.03 410.00,310.70 C410.97,311.37 411.95,312.78 412.90,312.40 C413.85,312.02 414.67,309.15 415.70,308.40 C416.73,307.65 418.15,307.52 419.10,307.90 C420.05,308.28 420.63,309.47 421.40,310.70 C422.17,311.93 422.82,315.32 423.70,315.30 C424.58,315.28 425.82,310.83 426.70,310.60 C427.58,310.37 428.13,313.73 429.00,313.90 C429.87,314.07 430.95,311.42 431.90,311.60 C432.85,311.78 433.75,314.82 434.70,315.00 C435.65,315.18 436.37,312.32 437.60,312.70 C438.83,313.08 440.87,316.82 442.10,317.30 C443.33,317.78 444.03,315.32 445.00,315.60 C445.97,315.88 446.95,319.10 447.90,319.00 C448.85,318.90 449.75,316.05 450.70,315.00 C451.65,313.95 452.55,312.52 453.60,312.70 C454.65,312.88 455.67,315.53 457.00,316.10 C458.33,316.67 460.27,316.00 461.60,316.10 C462.93,316.20 463.77,316.35 465.00,316.70 C466.23,317.05 467.68,318.17 469.00,318.20 C470.32,318.23 471.55,317.43 472.90,316.90 C474.25,316.37 475.75,314.52 477.10,315.00 C478.45,315.48 479.72,319.80 481.00,319.80 C482.28,319.80 483.62,315.57 484.80,315.00 C485.98,314.43 486.92,315.85 488.10,316.40 C489.28,316.95 490.63,318.13 491.90,318.30 C493.17,318.47 494.58,317.55 495.70,317.40 C496.82,317.25 497.48,316.85 498.60,317.40 C499.72,317.95 501.13,320.78 502.40,320.70 C503.67,320.62 504.60,317.68 506.20,316.90 C507.80,316.12 511.03,316.15 512.00,316.00" stroke="#0000ff" stroke-width="1.9" fill="none" stroke-linejoin="round" stroke-linecap="round"/>
<path d="M51.00,306.2h0.01M56.19,306.2h0.01M61.38,306.2h0.01M66.57,306.2h0.01M71.76,306.2h0.01M76.95,306.2h0.01M82.14,306.2h0.01M87.33,306.2h0.01M92.52,306.2h0.01M97.71,306.2h0.01M102.90,306.2h0.01M108.09,306.2h0.01M113.28,306.2h0.01M118.47,306.2h0.01M123.66,306.2h0.01M128.85,306.2h0.01M134.04,306.2h0.01M139.23,306.2h0.01M144.42,306.2h0.01M149.61,306.2h0.01M154.79,306.2h0.01M159.98,306.2h0.01M165.17,306.2h0.01M170.36,306.2h0.01M175.55,306.2h0.01M180.74,306.2h0.01M185.93,306.2h0.01M191.12,306.2h0.01M196.31,306.2h0.01M201.50,306.2h0.01M206.69,306.2h0.01M211.88,306.2h0.01M217.07,306.2h0.01M222.26,306.2h0.01M227.45,306.2h0.01M232.64,306.2h0.01M237.83,306.2h0.01M243.02,306.2h0.01M248.21,306.2h0.01M253.40,306.2h0.01" stroke="#000" stroke-width="1.6" stroke-linecap="square" fill="none"/>
<path d="M335.30,306.2h0.01M340.48,306.2h0.01M345.67,306.2h0.01M350.85,306.2h0.01M356.04,306.2h0.01M361.22,306.2h0.01M366.41,306.2h0.01M371.59,306.2h0.01M376.78,306.2h0.01M381.96,306.2h0.01M387.15,306.2h0.01M392.33,306.2h0.01M397.52,306.2h0.01M402.70,306.2h0.01M407.89,306.2h0.01M413.07,306.2h0.01M418.26,306.2h0.01M423.44,306.2h0.01M428.63,306.2h0.01M433.81,306.2h0.01M439.00,306.2h0.01M444.18,306.2h0.01M449.37,306.2h0.01M454.55,306.2h0.01M459.74,306.2h0.01M464.92,306.2h0.01M470.11,306.2h0.01M475.29,306.2h0.01M480.48,306.2h0.01M485.66,306.2h0.01M490.85,306.2h0.01M496.03,306.2h0.01M501.22,306.2h0.01M506.40,306.2h0.01" stroke="#000" stroke-width="1.6" stroke-linecap="square" fill="none"/>
<line x1="63.70" y1="291.10" x2="80.82" y2="275.10" stroke="#000" stroke-width="1.1"/>
<polygon points="85.20,271.00 82.59,277.00 79.04,273.20" fill="#000"/>
<line x1="178.60" y1="311.60" x2="185.66" y2="303.11" stroke="#000" stroke-width="1.1"/>
<polygon points="189.50,298.50 187.66,304.78 183.66,301.45" fill="#000"/>
<line x1="350.40" y1="300.80" x2="337.08" y2="239.66" stroke="#000" stroke-width="1.1"/>
<polygon points="335.80,233.80 339.62,239.11 334.54,240.22" fill="#000"/>
<line x1="461.60" y1="312.30" x2="454.45" y2="295.52" stroke="#000" stroke-width="1.1"/>
<polygon points="452.10,290.00 456.84,294.50 452.06,296.54" fill="#000"/>
<line x1="121.00" y1="262.30" x2="134.00" y2="262.30" stroke="#000" stroke-width="1.2"/>
<polygon points="139.50,262.30 134.00,264.70 134.00,259.90" fill="#000"/>
<line x1="207.10" y1="288.30" x2="220.00" y2="288.30" stroke="#000" stroke-width="1.2"/>
<polygon points="225.50,288.30 220.00,290.70 220.00,285.90" fill="#000"/>
<line x1="351.80" y1="220.50" x2="365.10" y2="220.50" stroke="#000" stroke-width="1.2"/>
<polygon points="370.60,220.50 365.10,222.90 365.10,218.10" fill="#000"/>
<line x1="457.00" y1="279.50" x2="469.70" y2="279.50" stroke="#000" stroke-width="1.2"/>
<polygon points="475.20,279.50 469.70,281.90 469.70,277.10" fill="#000"/>
<text x="20.00" y="11.60" font-size="14.5" text-anchor="start" >(a)</text>
<text x="274.30" y="11.60" font-size="14.5" text-anchor="start" >(b)</text>
<text x="21.90" y="186.00" font-size="14.5" text-anchor="start" >(c)</text>
<text x="274.30" y="187.30" font-size="14.5" text-anchor="start" >(d)</text>
<text x="229.80" y="26.50" font-size="16" text-anchor="start" >Xe</text>
<text x="249.60" y="17.70" font-size="10.5" text-anchor="start" >+</text>
<text x="474.60" y="27.70" font-size="16" text-anchor="start" >Xe</text>
<text x="493.20" y="19.00" font-size="10.5" text-anchor="start" >2+</text>
<text x="228.30" y="202.20" font-size="16" text-anchor="start" >Ar</text>
<text x="244.80" y="193.30" font-size="10.5" text-anchor="start" >+</text>
<text x="479.90" y="202.30" font-size="16" text-anchor="start" >Ar</text>
<text x="496.00" y="193.60" font-size="10.5" text-anchor="start" >2+</text>
<text x="69.80" y="267.10" font-size="15.8" text-anchor="start" >Ar</text>
<circle cx="86.90" cy="252.50" r="1.1" fill="#000"/>
<text x="89.50" y="267.10" font-size="15.8" text-anchor="start" >+h&#957;</text>
<text x="140.40" y="267.10" font-size="15.8" text-anchor="start" >Ar</text>
<text x="156.90" y="258.60" font-size="10.5" text-anchor="start" >+</text>
<text x="153.00" y="293.60" font-size="15.8" text-anchor="start" >Ar</text>
<text x="168.50" y="284.80" font-size="10.5" text-anchor="start" >+</text>
<circle cx="176.90" cy="278.60" r="1.1" fill="#000"/>
<text x="178.90" y="293.60" font-size="15.8" text-anchor="start" >+h&#957;</text>
<text x="230.40" y="293.60" font-size="15.8" text-anchor="start" >Ar</text>
<text x="245.80" y="284.80" font-size="10.5" text-anchor="start" >2+</text>
<text x="296.90" y="225.60" font-size="15.8" text-anchor="start" >Ar</text>
<text x="312.60" y="216.80" font-size="10.5" text-anchor="start" >+</text>
<circle cx="320.40" cy="210.60" r="1.1" fill="#000"/>
<text x="322.80" y="225.60" font-size="15.8" text-anchor="start" >+h&#957;</text>
<text x="374.50" y="225.40" font-size="15.8" text-anchor="start" >Ar</text>
<text x="389.40" y="216.90" font-size="10.5" text-anchor="start" >2+</text>
<text x="396.40" y="283.70" font-size="15.8" text-anchor="start" >Ar</text>
<text x="412.30" y="276.20" font-size="10.5" text-anchor="start" >2+</text>
<circle cx="424.90" cy="269.30" r="1.1" fill="#000"/>
<text x="426.30" y="283.70" font-size="15.8" text-anchor="start" >+h&#957;</text>
<text x="477.70" y="284.20" font-size="15.8" text-anchor="start" >Ar</text>
<text x="493.40" y="276.60" font-size="10.5" text-anchor="start" >3+</text>
<text x="85.50" y="354.50" font-size="15.8" text-anchor="start" >kinetic energy (eV)</text>
<text x="338.50" y="356.60" font-size="15.8" text-anchor="start" >kinetic energy (eV)</text>
<text transform="translate(13.3,145.8) rotate(-90)" font-size="16">signal (arb. units)</text>
<text transform="translate(14.3,321.0) rotate(-90)" font-size="16">signal (arb. units)</text>
<rect x="305.0" y="10.0" width="132.6" height="41.8" fill="#fff" stroke="#b4b4b4" stroke-width="1.2"/>
<path d="M309.2,18.9H326.3" stroke="#000" stroke-width="1.9"/>
<path d="M309.2,33.1H326.3" stroke="#f00" stroke-width="1.9"/>
<path d="M309.2,47.2H326.3" stroke="#00f" stroke-width="1.9"/>
<text x="329.30" y="21.80" font-size="11.8" text-anchor="start" >pump</text>
<text x="329.30" y="36.00" font-size="11.8" text-anchor="start" >pump+probe</text>
<text x="329.30" y="50.30" font-size="11.8" text-anchor="start" >(pump+probe)-pump</text>
</svg>
</body></html>
